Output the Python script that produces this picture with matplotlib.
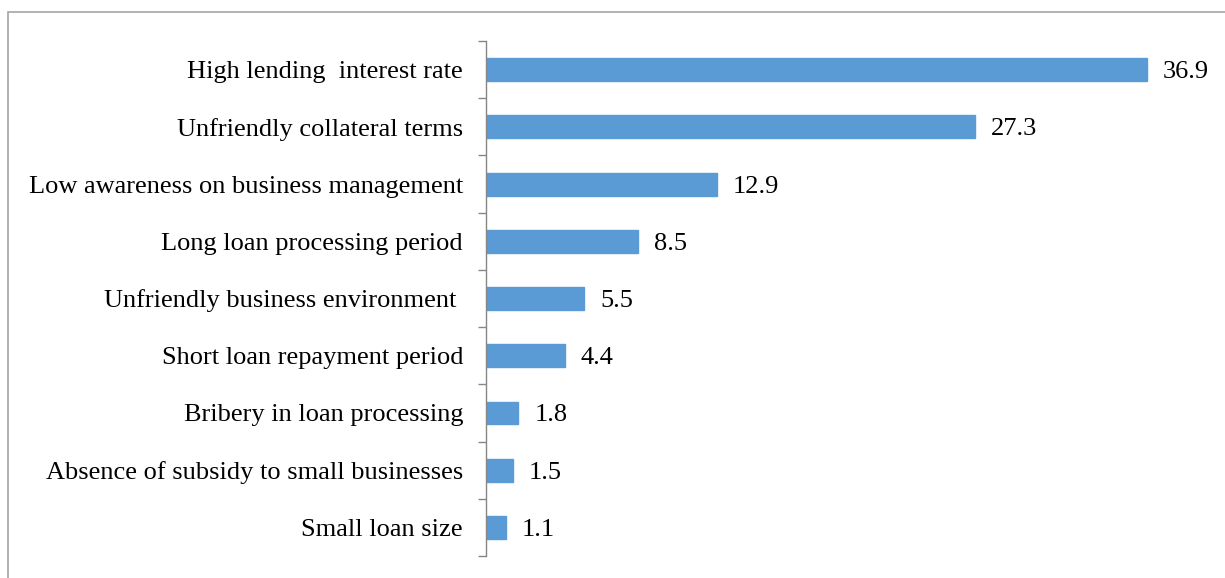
import matplotlib
matplotlib.use("Agg")
import matplotlib.pyplot as plt
from matplotlib.patches import Rectangle

plt.rcParams['font.family'] = ['Liberation Serif', 'DejaVu Serif']

categories = [
    "High lending  interest rate",
    "Unfriendly collateral terms",
    "Low awareness on business management",
    "Long loan processing period",
    "Unfriendly business environment ",
    "Short loan repayment period",
    "Bribery in loan processing",
    "Absence of subsidy to small businesses",
    "Small loan size",
]
values = [36.9, 27.3, 12.9, 8.5, 5.5, 4.4, 1.8, 1.5, 1.1]

W, H = 1225, 578
fig = plt.figure(figsize=(W / 100, H / 100), dpi=100)

# outer frame (runs off the right and bottom edges)
fig.patches.append(Rectangle((8 / W, -0.1), 1.2, 1 - 12 / H + 0.1, transform=fig.transFigure,
                             fill=False, edgecolor='#a6a6a6', linewidth=1.2))

ax = fig.add_axes([486 / W, 1 - 556 / H, 716 / W, (556 - 41) / H])
ypos = list(range(len(categories)))
ax.barh(ypos, values, height=0.4, color='#5b9bd5', edgecolor='#5b9bd5')
ax.set_xlim(0, 40)
ax.set_ylim(len(categories) - 0.5, -0.5)

for y, v in zip(ypos, values):
    ax.text(v + 0.9, y, f"{v:.1f}", va='center_baseline', ha='left', fontsize=19, color='black')

ax.set_yticks(ypos)
ax.set_yticklabels(categories, fontsize=19, va='center_baseline')
ax.set_yticks([y - 0.5 for y in range(len(categories) + 1)], minor=True)
ax.tick_params(axis='y', which='major', length=0, pad=16.5)
ax.tick_params(axis='y', which='minor', length=6, color='#868686', width=1)
ax.set_xticks([])

for s in ['top', 'right', 'bottom']:
    ax.spines[s].set_visible(False)
ax.spines['left'].set_color('#868686')
ax.spines['left'].set_linewidth(1)

fig.savefig("out.png", dpi=100)
